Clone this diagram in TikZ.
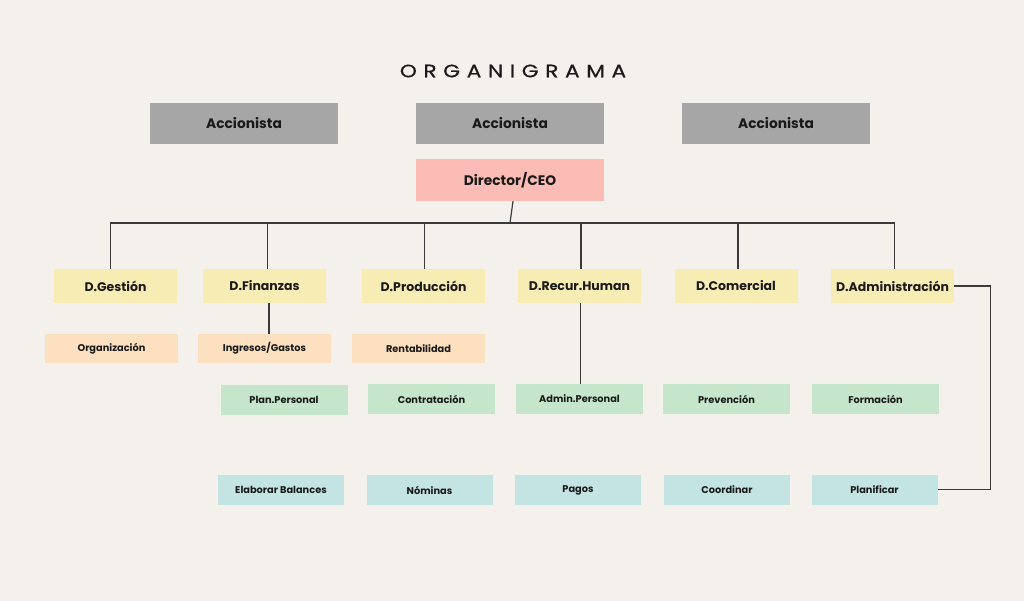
\documentclass[tikz,border=0pt]{standalone}
\usepackage{fontspec}
\setmainfont{Poppins}
\newfontfamily\titlefont[LetterSpace=37,FakeStretch=1.2,FakeBold=0.7]{Poppins}
\definecolor{paper}{HTML}{F4F0EB}
\definecolor{shareholder}{HTML}{A6A6A6}
\definecolor{ceofill}{HTML}{FABCB4}
\definecolor{deptfill}{HTML}{F8ECB5}
\definecolor{unitfill}{HTML}{FCE0BF}
\definecolor{taskfill}{HTML}{C5E6CB}
\definecolor{dutyfill}{HTML}{C3E4E2}
\definecolor{ink}{HTML}{1A1A1A}
\definecolor{wire}{HTML}{3A3A3A}
\tikzset{
  box/.style={inner sep=0pt, text=ink, font=\bfseries},
  bigbox/.style={box, minimum width=188pt, minimum height=41pt, font=\fontsize{13.8}{16}\selectfont\bfseries},
  deptbox/.style={box, fill=deptfill, minimum width=123pt, minimum height=34pt, font=\fontsize{12.5}{15}\selectfont\bfseries},
  unitbox/.style={box, fill=unitfill, minimum width=133pt, minimum height=29pt, font=\fontsize{9.8}{12}\selectfont\bfseries},
  taskbox/.style={box, fill=taskfill, minimum width=127pt, minimum height=30pt, font=\fontsize{9.8}{12}\selectfont\bfseries},
  dutybox/.style={box, fill=dutyfill, minimum width=126pt, minimum height=30pt, font=\fontsize{9.8}{12}\selectfont\bfseries},
  wireline/.style={draw=wire, line width=1.2pt},
}
\begin{document}
\begin{tikzpicture}[x=1pt, y=-1pt]
  \fill[paper] (0,0) rectangle (1024,601);
  \useasboundingbox (0,0) rectangle (1024,601);

  % title
  \node[text=ink, font=\fontsize{18}{20}\selectfont\titlefont] (title) at (513,71) {ORGANIGRAMA};

  % shareholders and CEO
  \node[bigbox, fill=shareholder] (acc1) at (244,123.5) {Accionista};
  \node[bigbox, fill=shareholder] (acc2) at (510,123.5) {Accionista};
  \node[bigbox, fill=shareholder] (acc3) at (776,123.5) {Accionista};
  \node[bigbox, fill=ceofill, minimum height=42pt] (ceo) at (510,180) {Director/CEO};

  % departments
  \node[deptbox] (dg) at (115.5,286) {D.Gestión};
  \node[deptbox] (df) at (264.5,286) {D.Finanzas};
  \node[deptbox] (dp) at (423.5,286) {D.Producción};
  \node[deptbox] (dr) at (579.5,286) {D.Recur.Human};
  \node[deptbox] (dc) at (736,286) {D.Comercial};
  \node[deptbox] (da) at (892.5,286) {D.Administración};

  % units
  \node[unitbox] (org) at (111.5,348.5) {Organización};
  \node[unitbox] (ing) at (264.5,348.5) {Ingresos/Gastos};
  \node[unitbox] (ren) at (418.5,348.5) {Rentabilidad};

  % tasks
  \node[taskbox] (plan)  at (284,400)   {Plan.Personal};
  \node[taskbox] (contr) at (431.5,399) {Contratación};
  \node[taskbox] (admp)  at (579.5,399) {Admin.Personal};
  \node[taskbox] (prev)  at (726.5,399) {Prevención};
  \node[taskbox] (form)  at (875.5,399) {Formación};

  % duties
  \node[dutybox] (elab)   at (281,490)   {Elaborar Balances};
  \node[dutybox] (nom)    at (429.5,490) {Nóminas};
  \node[dutybox] (pag)    at (578,490)   {Pagos};
  \node[dutybox] (coord)  at (727,489.5) {Coordinar};
  \node[dutybox] (planif) at (874.5,489.5) {Planificar};

  % CEO to department bus
  \coordinate (busmid) at (510,223);
  \draw[wireline] ([xshift=3pt]ceo.south) -- (busmid);
  \draw[wireline] ([xshift=-5pt]dg.north) |- (busmid);
  \draw[wireline] ([xshift=3pt]df.north) |- (busmid);
  \draw[wireline] ([xshift=1pt]dp.north) |- (busmid);
  \draw[wireline] ([xshift=1.5pt]dr.north) |- (busmid);
  \draw[wireline] ([xshift=2pt]dc.north) |- (busmid);
  \draw[wireline] ([xshift=2pt]da.north) |- (busmid);

  % department links
  \draw[wireline] ([xshift=4.5pt]df.south) -- ([xshift=4.5pt]ing.north);
  \draw[wireline] ([xshift=1pt]dr.south) -- ([xshift=1pt]admp.north);
  \draw[wireline] (da.east) -- ++(36,0) |- (planif.east);
\end{tikzpicture}
\end{document}
